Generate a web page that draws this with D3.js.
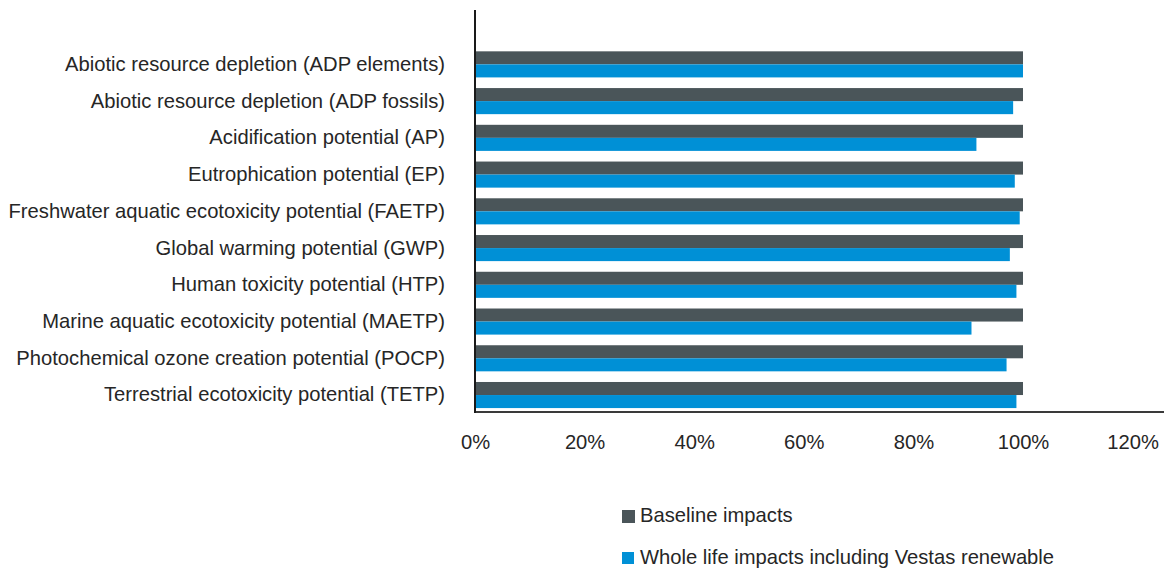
<!DOCTYPE html>
<html>
<head>
<meta charset="utf-8">
<script src="https://cdn.jsdelivr.net/npm/d3@7/dist/d3.min.js"></script>
<style>
  html, body { margin: 0; padding: 0; background: #ffffff; }
  svg { display: block; }
  text { font-family: "Liberation Sans", Arial, sans-serif; fill: #262626; }
</style>
</head>
<body>
<svg id="chart" width="1164" height="569"></svg>
<script>
const categories = [
  "Abiotic resource depletion (ADP elements)",
  "Abiotic resource depletion (ADP fossils)",
  "Acidification potential (AP)",
  "Eutrophication potential (EP)",
  "Freshwater aquatic ecotoxicity potential (FAETP)",
  "Global warming potential (GWP)",
  "Human toxicity potential (HTP)",
  "Marine aquatic ecotoxicity potential (MAETP)",
  "Photochemical ozone creation potential (POCP)",
  "Terrestrial ecotoxicity potential (TETP)"
];
const seriesNames = ["Baseline impacts", "Whole life impacts including Vestas renewable"];
const baseline = [1.00, 1.00, 1.00, 1.00, 1.00, 1.00, 1.00, 1.00, 1.00, 1.00];
const wholeLife = [1.00, 0.982, 0.915, 0.985, 0.994, 0.976, 0.988, 0.906, 0.970, 0.988];
const xTicks = [0, 0.2, 0.4, 0.6, 0.8, 1.0, 1.2];
const colors = ["#4a5559", "#0090d6"];

const svg = d3.select("#chart");
const W = 1164;
const FS = "20.2px";
const plotLeft = 475, plotRight = 1132.6, plotTop = 10, plotBottom = 412;

const x = d3.scaleLinear().domain([0, 1.2]).range([plotLeft, plotRight]);
const y = d3.scaleBand().domain(categories).range([46, 413.4]).paddingInner(0.29).paddingOuter(0.145);
const ySub = d3.scaleBand().domain(seriesNames).range([0, y.bandwidth()]);

const rows = categories.map((c, i) => ({cat: c, vals: [baseline[i], wholeLife[i]]}));

const g = svg.append("g");
rows.forEach(r => {
  r.vals.forEach((v, j) => {
    g.append("rect")
      .attr("x", x(0))
      .attr("y", y(r.cat) + ySub(seriesNames[j]))
      .attr("width", x(v) - x(0))
      .attr("height", ySub.bandwidth())
      .attr("fill", colors[j]);
  });
});

// X axis
const xAxis = d3.axisBottom(x).tickValues(xTicks).tickFormat(d3.format(".0%")).tickSize(0).tickPadding(23);
const gx = svg.append("g").attr("transform", `translate(0,${plotBottom})`).call(xAxis);
gx.select(".domain").remove();
gx.selectAll("text").style("font-size", FS).attr("fill", "#262626");
svg.append("line").attr("x1", x(0)).attr("x2", W).attr("y1", plotBottom).attr("y2", plotBottom)
  .attr("stroke", "#3a3a3a").attr("stroke-width", 2);

// Y axis
const yAxis = d3.axisLeft(y).tickSize(0).tickPadding(30);
const gy = svg.append("g").attr("transform", `translate(${plotLeft},0)`).call(yAxis);
gy.select(".domain").remove();
gy.selectAll("text").style("font-size", FS).attr("fill", "#262626");
svg.append("line").attr("x1", plotLeft).attr("x2", plotLeft).attr("y1", plotTop).attr("y2", plotBottom + 1)
  .attr("stroke", "#1a1a1a").attr("stroke-width", 2);

// Legend
const legend = svg.append("g");
const legendY = [522, 564];
const sq = [13, 12];
seriesNames.forEach((n, j) => {
  legend.append("rect")
    .attr("x", 622).attr("y", legendY[j] - 12)
    .attr("width", sq[j]).attr("height", sq[j])
    .attr("fill", colors[j]);
  legend.append("text")
    .attr("x", 640).attr("y", legendY[j])
    .style("font-size", FS)
    .text(n);
});
</script>
</body>
</html>
